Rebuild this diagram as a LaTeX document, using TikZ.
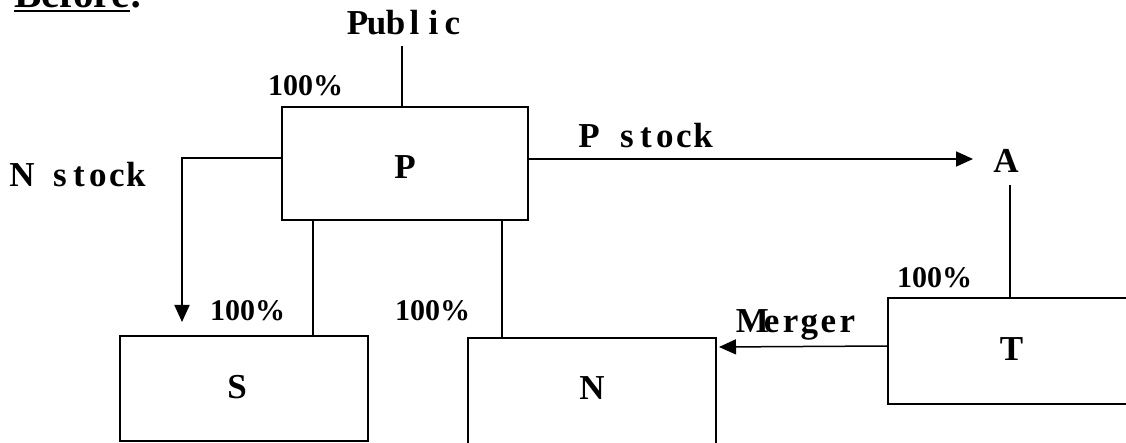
\documentclass[tikz,border=0pt]{standalone}
\usepackage{fontspec}
\setmainfont{Liberation Serif}
\usetikzlibrary{arrows.meta}
\newcommand\cl[1]{\makebox[19pt][c]{#1}}
\newcommand\lblfont{\fontsize{35}{42}\selectfont\bfseries}
\newcommand\pctfont{\fontsize{30}{36}\selectfont\bfseries}
\begin{document}
\begin{tikzpicture}[x=1pt,y=-1pt,
  box/.style={draw, line width=2pt, inner sep=0pt, rectangle, font=\lblfont, text height=23pt, text depth=0pt},
  lbl/.style={inner sep=0pt, anchor=base, font=\lblfont},
  pct/.style={inner sep=0pt, anchor=base west, font=\pctfont},
  conn/.style={line width=1.8pt},
  arr/.style={conn, -{Triangle[length=17pt,width=15pt]}}]
\useasboundingbox (0,0) rectangle (1126,443);

% heading (cut at the top, as in the reference)
\node[inner sep=0pt, anchor=base west, font=\fontsize{41}{48}\selectfont\bfseries] (before) at (14,8)
  {\setbox0\hbox{Before}\rlap{\rule[-4.5pt]{\wd0}{2pt}}Before:};

% boxes
\node[box, minimum width=246pt, minimum height=113pt, text height=30pt] (P) at (405,163.5) {\cl{P}};
\node[box, minimum width=248pt, minimum height=105pt, text depth=3pt] (S) at (244,388.5) {\hspace*{-14pt}\cl{S}};
\node[box, minimum width=248pt, minimum height=112pt, text depth=12pt] (N) at (592,394) {\cl{N}};
\node[box, minimum width=247pt, minimum height=106pt, text depth=4pt] (T) at (1011.5,351) {\cl{T}};

% labels
\node[lbl] (pub) at (405,35) {\cl{P}\cl{u}\cl{b}\cl{l}\cl{i}\cl{c}};
\node[lbl] (A) at (1006,173) {\cl{A}};
\node[lbl] (nstock) at (79,187) {\cl{N}\cl{}\cl{s}\cl{t}\cl{o}\cl{c}\cl{k}};
\node[lbl] (pstock) at (646,148) {\cl{P}\cl{}\cl{s}\cl{t}\cl{o}\cl{c}\cl{k}};
\node[lbl] (merger) at (800,332) {\cl{M}\cl{e}\cl{r}\cl{g}\cl{e}\cl{r}};

\node[pct] (p1) at (268,96) {100\%};
\node[pct] (p2) at (210,320) {100\%};
\node[pct] (p3) at (395,320) {100\%};
\node[pct] (p4) at (897,288) {100\%};

% helper coordinates
\coordinate (pubend) at (402,46);
\coordinate (nsy) at (182,158);
\coordinate (ntip) at (182,322);
\coordinate (xs) at (313,0);
\coordinate (xn) at (502,0);
\coordinate (psy) at (0,159);
\coordinate (ptip) at (973,159);
\coordinate (aend) at (1010,185);
\coordinate (msy) at (0,346);
\coordinate (mtip) at (719,347);

% connectors
\draw[conn] (P.north -| pubend) -- (pubend);
\draw[arr] (P.west |- nsy) -| (ntip);
\draw[conn] (P.south -| xs) -- (S.north -| xs);
\draw[conn] (P.south -| xn) -- (N.north -| xn);
\draw[arr] (P.east |- psy) -- (ptip);
\draw[conn] (aend) -- (T.north -| aend);
\draw[arr, line width=1.5pt] (T.west |- msy) -- (mtip);
\end{tikzpicture}
\end{document}
